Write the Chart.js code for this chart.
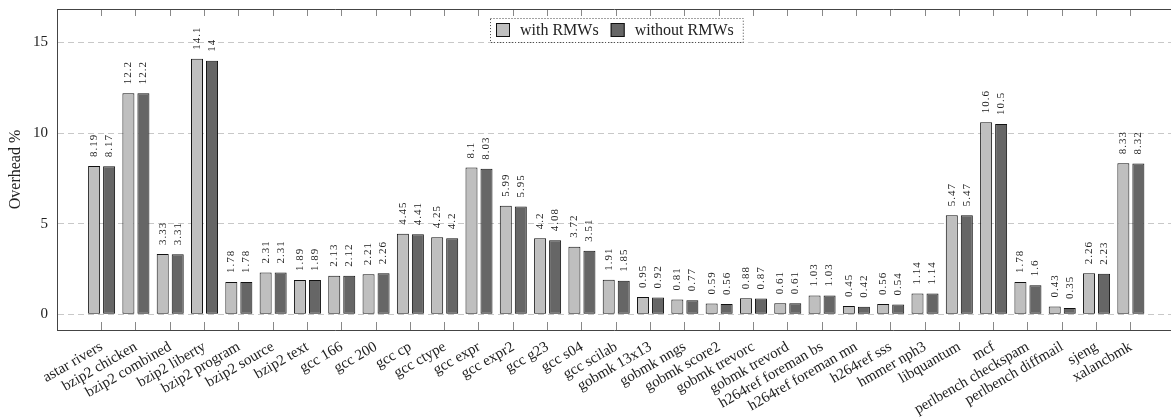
<!DOCTYPE html>
<html>
<head>
<meta charset="utf-8">
<script src="https://cdn.jsdelivr.net/npm/chart.js@4.4.1/dist/chart.umd.min.js"></script>
<style>
  html, body { margin: 0; padding: 0; background: #fff; overflow: hidden; }
</style>
</head>
<body>
<canvas id="chart" width="1171" height="420"></canvas>
<script>
// benchmark names and overheads (%)
const benchmarks = [
  'astar rivers', 'bzip2 chicken', 'bzip2 combined', 'bzip2 liberty', 'bzip2 program',
  'bzip2 source', 'bzip2 text', 'gcc 166', 'gcc 200', 'gcc cp', 'gcc ctype', 'gcc expr',
  'gcc expr2', 'gcc g23', 'gcc s04', 'gcc scilab', 'gobmk 13x13', 'gobmk nngs',
  'gobmk score2', 'gobmk trevorc', 'gobmk trevord', 'h264ref foreman bs',
  'h264ref foreman mn', 'h264ref sss', 'hmmer nph3', 'libquantum', 'mcf',
  'perlbench checkspam', 'perlbench diffmail', 'sjeng', 'xalancbmk'
];
const withRMWs = [8.19, 12.2, 3.33, 14.1, 1.78, 2.31, 1.89, 2.13, 2.21, 4.45, 4.25, 8.1,
  5.99, 4.2, 3.72, 1.91, 0.95, 0.81, 0.59, 0.88, 0.61, 1.03, 0.45, 0.56, 1.14, 5.47, 10.6,
  1.78, 0.43, 2.26, 8.33];
const withoutRMWs = [8.17, 12.2, 3.31, 14, 1.78, 2.31, 1.89, 2.12, 2.26, 4.41, 4.2, 8.03,
  5.95, 4.08, 3.51, 1.85, 0.92, 0.77, 0.56, 0.87, 0.61, 1.03, 0.42, 0.54, 1.14, 5.47, 10.5,
  1.6, 0.35, 2.23, 8.32];
const yTicks = [0, 5, 10, 15];

const serif = '"Liberation Serif", "DejaVu Serif", serif';
const catTicks = benchmarks.map((_, i) => ({ value: i }));

// rotated value labels above each bar
const valueLabels = {
  id: 'valueLabels',
  afterDatasetsDraw(chart) {
    const ctx = chart.ctx;
    ctx.save();
    ctx.font = '11px ' + serif;
    ctx.letterSpacing = '1px';
    ctx.fillStyle = '#222';
    ctx.textAlign = 'left';
    ctx.textBaseline = 'middle';
    chart.data.datasets.forEach((ds, di) => {
      chart.getDatasetMeta(di).data.forEach((bar, i) => {
        ctx.save();
        ctx.translate(bar.x, bar.y - 9);
        ctx.rotate(-Math.PI / 2);
        ctx.fillText(String(ds.data[i].y), 0, 0);
        ctx.restore();
      });
    });
    ctx.restore();
  }
};

// legend in a dotted frame, top centre of the plot
const frameLegend = {
  id: 'frameLegend',
  afterDraw(chart) {
    const { ctx, chartArea } = chart;
    const box = 14, gap = 10, itemGap = 12, padL = 6, padR = 9, h = 24;
    ctx.save();
    ctx.font = '16px ' + serif;
    const items = chart.data.datasets.map(ds => ({ ds, w: ctx.measureText(ds.label).width }));
    let total = padL + padR + itemGap * (items.length - 1);
    items.forEach(it => { total += box + gap + it.w; });
    const left = Math.round((chartArea.left + 1175) / 2 - total / 2);
    const top = chartArea.top + 9;
    ctx.fillStyle = '#fff';
    ctx.fillRect(left, top, total, h);
    ctx.setLineDash([1, 2]);
    ctx.strokeStyle = '#444';
    ctx.lineWidth = 1;
    ctx.strokeRect(left + 0.5, top + 0.5, total, h);
    ctx.setLineDash([]);
    let x = left + padL;
    const cy = top + h / 2;
    items.forEach(it => {
      ctx.fillStyle = it.ds.backgroundColor;
      ctx.fillRect(x, cy - box / 2, box, box);
      ctx.strokeStyle = '#111';
      ctx.strokeRect(x + 0.5, cy - box / 2 + 0.5, box - 1, box - 1);
      x += box + gap;
      ctx.fillStyle = '#222';
      ctx.textBaseline = 'middle';
      ctx.fillText(it.ds.label, x, cy + 1);
      x += it.w + itemGap;
    });
    ctx.restore();
  }
};

new Chart(document.getElementById('chart'), {
  type: 'bar',
  data: {
    datasets: [
      {
        label: 'with RMWs',
        data: withRMWs.map((v, i) => ({ x: i, y: v })),
        backgroundColor: '#bfbfbf',
        borderColor: '#111',
        borderWidth: 1,
        borderSkipped: false
      },
      {
        label: 'without RMWs',
        data: withoutRMWs.map((v, i) => ({ x: i, y: v })),
        backgroundColor: '#666666',
        borderColor: '#111',
        borderWidth: 1,
        borderSkipped: false
      }
    ]
  },
  options: {
    responsive: false,
    animation: false,
    categoryPercentage: 0.875,
    barPercentage: 0.8,
    layout: { padding: 0 },
    scales: {
      x: {
        type: 'linear',
        position: 'bottom',
        offset: false,
        min: -1.3,
        max: 31.17,
        afterBuildTicks: s => { s.ticks = catTicks.map(t => ({ ...t })); },
        afterFit: s => { s.height = 90; s.paddingLeft = 0; s.paddingRight = 0; },
        grid: { offset: false, drawOnChartArea: false, tickLength: -8, tickColor: '#888' },
        border: { display: true, color: '#444' },
        ticks: {
          autoSkip: false,
          minRotation: 30,
          maxRotation: 30,
          padding: 16,
          color: '#222',
          font: { family: serif, size: 15 },
          callback: v => benchmarks[v]
        }
      },
      x2: {
        type: 'linear',
        axis: 'x',
        position: 'top',
        offset: false,
        min: -1.3,
        max: 31.17,
        afterBuildTicks: s => { s.ticks = catTicks.map(t => ({ ...t })); },
        afterFit: s => { s.height = 9; s.paddingLeft = 0; s.paddingRight = 0; },
        grid: { offset: false, drawOnChartArea: false, tickLength: -7, tickColor: '#888' },
        border: { display: true, color: '#444' },
        ticks: { display: false }
      },
      y: {
        min: -0.87,
        max: 16.85,
        afterBuildTicks: s => { s.ticks = yTicks.map(v => ({ value: v })); },
        afterFit: s => { s.width = 57; s.paddingTop = 0; s.paddingBottom = 0; },
        grid: { color: '#c8c8c8', drawTicks: false },
        border: { display: true, color: '#444', dash: [6, 4] },
        ticks: { padding: 9, color: '#222', font: { family: serif, size: 15 } },
        title: {
          display: true,
          text: 'Overhead %',
          color: '#222',
          font: { family: serif, size: 16 },
          padding: { top: 6, bottom: 0 }
        }
      }
    },
    plugins: {
      legend: { display: false },
      tooltip: { enabled: false }
    }
  },
  plugins: [valueLabels, frameLegend]
});
</script>
</body>
</html>
